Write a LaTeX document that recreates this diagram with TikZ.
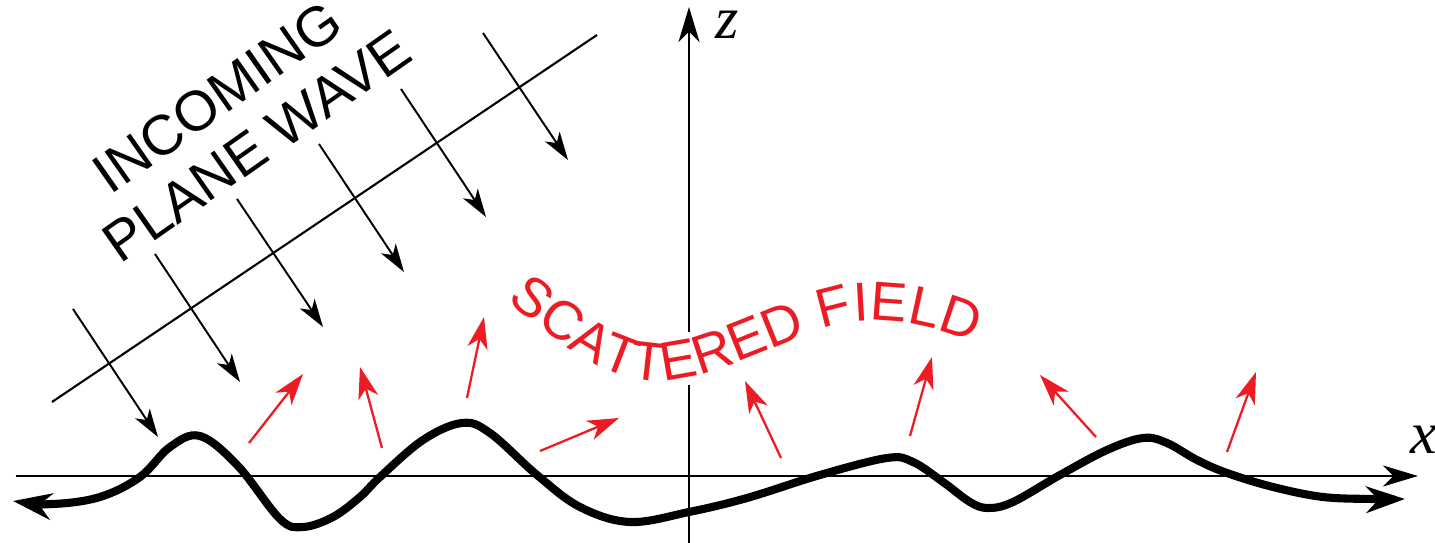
\documentclass[tikz,border=0pt]{standalone}
\usepackage{fontspec}
\setmainfont{Liberation Sans}
\newfontfamily\axisfont{Liberation Serif}
\usetikzlibrary{arrows.meta,decorations.text}
\definecolor{fieldred}{RGB}{237,28,36}
\newcommand{\capfont}{\fontsize{16}{19}\selectfont}
\newcommand{\redfont}{\fontsize{15.6}{19}\selectfont}

\begin{document}
\begin{tikzpicture}[x=0.01cm,y=-0.01cm,>={Stealth[length=8pt,width=5pt,inset=2.2pt]},
  axis/.style={line width=0.6pt,-{Stealth[length=10pt,width=6pt,inset=3pt]}},
  incoming/.style={line width=0.55pt,->},
  scattered/.style={fieldred,line width=0.65pt,-{Stealth[length=9pt,width=5.8pt,inset=2.6pt]}},
  surface/.style={line width=2.3pt,line join=round,
    {Stealth[length=11pt,width=7.5pt,inset=3.5pt]}-{Stealth[length=11pt,width=7.5pt,inset=3.5pt]}},
  caption/.style={font=\capfont,rotate=35,inner sep=0pt}]
  \useasboundingbox (0,0) rectangle (1435,543);
  % axes, the z axis broken behind the red text
  \draw[axis] (16,476) -- (1418,476);
  \draw[line width=0.6pt] (689,543) -- (689,385);
  \draw[axis] (689,332) -- (689,7);
  \node[font=\axisfont\itshape\fontsize{17}{20}\selectfont,inner sep=0pt] (zlab) at (727,25) {z};
  \node[font=\axisfont\itshape\fontsize{17}{20}\selectfont,inner sep=0pt] (xlab) at (1424,440) {x};
  % incoming plane wave
  \draw[line width=0.6pt] (52,402) -- (597,35);
  \draw[incoming] (73,309) -- (158,437);
  \draw[incoming] (155,254) -- (240,382);
  \draw[incoming] (237,199) -- (323,327);
  \draw[incoming] (319,144) -- (404,272);
  \draw[incoming] (401,89) -- (486,217);
  \draw[incoming] (483,33) -- (568,160);
  \node[caption] (incoming) at (217,97) {INCOMING};
  \node[caption] (plane) at (257,146) {PLANE WAVE};
  % rough surface
  \draw[surface] plot[smooth,tension=0.6] coordinates {(13,501) (53,504) (100,497)
    (140,477) (170,447) (200,436) (238,466) (280,519) (303,527) (333,517)
    (360,497) (380,477) (423,440) (462,423) (490,433) (537,475) (580,507) (630,522)
    (689,512) (747,498) (820,475) (887,458) (913,462) (943,482) (970,502) (988,508)
    (1013,502) (1060,475) (1107,450) (1143,438) (1167,443) (1197,460) (1227,473)
    (1273,487) (1323,497) (1373,499) (1405,499)};
  % scattered field
  \draw[scattered] (249,443) -- (303,374);
  \draw[scattered] (382,448) -- (360,367);
  \draw[scattered] (467,398) -- (484,317);
  \draw[scattered] (540,451) -- (619,418);
  \draw[scattered] (781,458) -- (745,381);
  \draw[scattered] (910,436) -- (932,357);
  \draw[scattered] (1096,437) -- (1040,375);
  \draw[scattered] (1227,452) -- (1256,372);
  \path[decorate,decoration={text along path,text align=left,
      text={|\redfont\color{fieldred}|SCATTERED FIELD}}]
    (507,300) .. controls (560,345) and (610,382) .. (660,381)
    .. controls (720,380) and (800,330) .. (850,322)
    .. controls (900,316) and (950,330) .. (1010,358);
\end{tikzpicture}
\end{document}
